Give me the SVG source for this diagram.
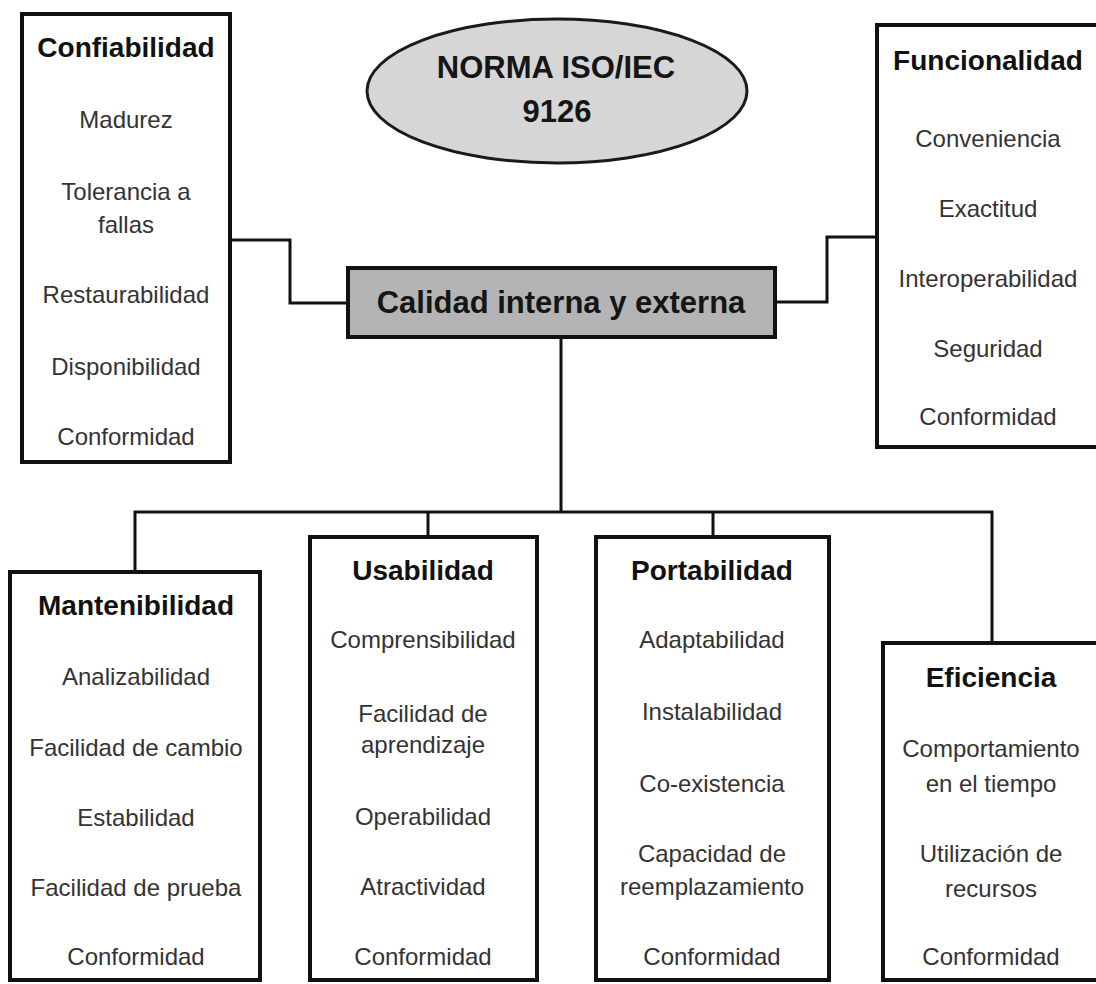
<svg xmlns="http://www.w3.org/2000/svg" width="1096" height="984" viewBox="0 0 1096 984">
<style>
  .box { fill: #ffffff; stroke: #111111; stroke-width: 4; }
  .conn { fill: none; stroke: #111111; stroke-width: 3; }
  .title { font-family: "Liberation Sans", Arial, sans-serif; font-weight: bold; font-size: 28px; fill: #111111; text-anchor: middle; }
  .item { font-family: "Liberation Sans", Arial, sans-serif; font-size: 24px; fill: #333333; text-anchor: middle; }
  .big { font-family: "Liberation Sans", Arial, sans-serif; font-weight: bold; font-size: 31px; fill: #151515; text-anchor: middle; }
</style>
<rect width="1096" height="984" fill="#ffffff"/>
<g id="connectors">
  <polyline class="conn" points="230,240 290,240 290,303 348,303"/>
  <polyline class="conn" points="877,237 827,237 827,302 775,302"/>
  <line class="conn" x1="561" y1="337" x2="561" y2="512"/>
  <polyline class="conn" points="135,572 135,512 992,512 992,643"/>
  <line class="conn" x1="428" y1="512" x2="428" y2="537"/>
  <line class="conn" x1="713" y1="512" x2="713" y2="537"/>
</g>
<g id="norma">
  <ellipse cx="557" cy="91" rx="190" ry="72" fill="#d6d6d6" stroke="#1a1a1a" stroke-width="3"/>
  <text class="big" x="556" y="78">NORMA ISO/IEC</text>
  <text class="big" x="557" y="122">9126</text>
</g>
<g id="calidad">
  <rect x="348" y="268" width="427" height="69" fill="#b4b4b4" stroke="#111111" stroke-width="4"/>
  <text class="big" x="561" y="313">Calidad interna y externa</text>
</g>
<g id="confiabilidad">
  <rect class="box" x="22" y="14" width="208" height="448"/>
  <text class="title" x="126" y="57">Confiabilidad</text>
  <text class="item" x="126" y="128">Madurez</text>
  <text class="item" x="126" y="200">Tolerancia a</text>
  <text class="item" x="126" y="233">fallas</text>
  <text class="item" x="126" y="303">Restaurabilidad</text>
  <text class="item" x="126" y="375">Disponibilidad</text>
  <text class="item" x="126" y="445">Conformidad</text>
</g>
<g id="funcionalidad">
  <rect class="box" x="877" y="25" width="230" height="422"/>
  <text class="title" x="988" y="70">Funcionalidad</text>
  <text class="item" x="988" y="147">Conveniencia</text>
  <text class="item" x="988" y="217">Exactitud</text>
  <text class="item" x="988" y="287">Interoperabilidad</text>
  <text class="item" x="988" y="357">Seguridad</text>
  <text class="item" x="988" y="425">Conformidad</text>
</g>
<g id="mantenibilidad">
  <rect class="box" x="10" y="572" width="250" height="408"/>
  <text class="title" x="136" y="615">Mantenibilidad</text>
  <text class="item" x="136" y="685">Analizabilidad</text>
  <text class="item" x="136" y="756">Facilidad de cambio</text>
  <text class="item" x="136" y="826">Estabilidad</text>
  <text class="item" x="136" y="896">Facilidad de prueba</text>
  <text class="item" x="136" y="965">Conformidad</text>
</g>
<g id="usabilidad">
  <rect class="box" x="310" y="537" width="227" height="443"/>
  <text class="title" x="423" y="580">Usabilidad</text>
  <text class="item" x="423" y="648">Comprensibilidad</text>
  <text class="item" x="423" y="722">Facilidad de</text>
  <text class="item" x="423" y="753">aprendizaje</text>
  <text class="item" x="423" y="825">Operabilidad</text>
  <text class="item" x="423" y="895">Atractividad</text>
  <text class="item" x="423" y="965">Conformidad</text>
</g>
<g id="portabilidad">
  <rect class="box" x="596" y="537" width="233" height="443"/>
  <text class="title" x="712" y="580">Portabilidad</text>
  <text class="item" x="712" y="648">Adaptabilidad</text>
  <text class="item" x="712" y="720">Instalabilidad</text>
  <text class="item" x="712" y="792">Co-existencia</text>
  <text class="item" x="712" y="862">Capacidad de</text>
  <text class="item" x="712" y="895">reemplazamiento</text>
  <text class="item" x="712" y="965">Conformidad</text>
</g>
<g id="eficiencia">
  <rect class="box" x="883" y="643" width="230" height="337"/>
  <text class="title" x="991" y="687">Eficiencia</text>
  <text class="item" x="991" y="757">Comportamiento</text>
  <text class="item" x="991" y="792">en el tiempo</text>
  <text class="item" x="991" y="862">Utilización de</text>
  <text class="item" x="991" y="897">recursos</text>
  <text class="item" x="991" y="965">Conformidad</text>
</g>
</svg>
